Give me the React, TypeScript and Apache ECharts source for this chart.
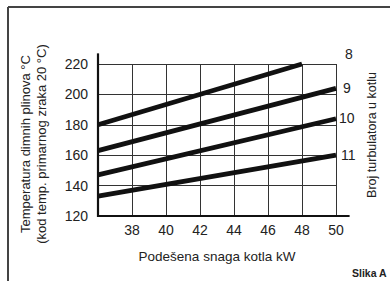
import React, { useEffect, useRef } from "react";
import * as echarts from "echarts";

// Data
const turbulators = ["8", "9", "10", "11"];
const powerStart = [36, 36, 36, 36];
const powerEnd = [48, 50, 50, 50];
const tempStart = [180, 163, 147, 133];
const tempEnd = [220, 204, 184, 160];
const xTicks = [36, 38, 40, 42, 44, 46, 48, 50];
const yTicks = [120, 140, 160, 180, 200, 220];

const labelOffsets: [number, number][] = [
  [43, -10],
  [7, 0],
  [3, -1],
  [5, 0],
];

const FONT = "'Liberation Sans', Arial, Helvetica, sans-serif";
const TXT = "#222";

export default function App() {
  const ref = useRef<HTMLDivElement>(null);
  useEffect(() => {
    if (!ref.current) return;
    const chart = echarts.init(ref.current, undefined, { renderer: "svg" });
    const series = turbulators.map((name, i) => ({
      type: "line",
      name,
      data: [
        [powerStart[i], tempStart[i]],
        [powerEnd[i], tempEnd[i]],
      ],
      showSymbol: false,
      clip: false,
      lineStyle: { color: "#111", width: 4.8 },
      endLabel: {
        show: true,
        formatter: name,
        distance: 0,
        offset: labelOffsets[i],
        color: TXT,
        fontSize: 14,
        fontFamily: FONT,
      },
    }));
    chart.setOption({
      animation: false,
      backgroundColor: "#fff",
      grid: { left: 98, right: 54, top: 64, bottom: 65 },
      xAxis: {
        type: "value",
        min: xTicks[0],
        max: xTicks[xTicks.length - 1],
        interval: 2,
        axisLine: { show: false },
        axisTick: { show: false },
        splitLine: { show: true, lineStyle: { color: "#333", width: 1 } },
        axisLabel: {
          color: TXT,
          fontSize: 14,
          fontFamily: FONT,
          margin: 7,
          formatter: (v: number) => (v === xTicks[0] ? "" : String(v)),
        },
        name: "Podešena snaga kotla kW",
        nameLocation: "middle",
        nameGap: 33,
        nameTextStyle: { color: TXT, fontSize: 13.5, fontFamily: FONT },
      },
      yAxis: [
        {
          type: "value",
          min: yTicks[0],
          max: yTicks[yTicks.length - 1],
          interval: 20,
          axisLine: { show: false },
          axisTick: { show: false },
          splitLine: { show: true, lineStyle: { color: "#333", width: 1 } },
          axisLabel: { color: TXT, fontSize: 14, fontFamily: FONT, margin: 10 },
          name: "Temperatura dimnih plinova °C\n(kod temp. primarnog zraka 20 °C)",
          nameLocation: "middle",
          nameGap: 48,
          nameTextStyle: {
            color: TXT,
            fontSize: 13,
            lineHeight: 16.5,
            fontFamily: FONT,
            padding: [0, 8, 0, 0],
          },
        },
        {
          type: "value",
          position: "right",
          min: yTicks[0],
          max: yTicks[yTicks.length - 1],
          interval: 20,
          axisLine: { show: false },
          axisTick: { show: false },
          splitLine: { show: false },
          axisLabel: { show: false },
          name: "Broj turbulatora u kotlu",
          nameLocation: "middle",
          nameGap: 29,
          nameTextStyle: {
            color: TXT,
            fontSize: 12.5,
            fontFamily: FONT,
            padding: [0, 0, 0, 10],
          },
        },
      ],
      series,
    });
    const p0 = chart.convertToPixel({ gridIndex: 0 }, [36, 120]) as number[];
    const pTop = chart.convertToPixel({ gridIndex: 0 }, [36, 227]) as number[];
    const pRight = chart.convertToPixel({ gridIndex: 0 }, [50.8, 120]) as number[];
    chart.setOption({
      graphic: [
        { type: "line", shape: { x1: 8, y1: 7, x2: 390, y2: 7 }, style: { stroke: "#444", lineWidth: 2 } },
        { type: "line", shape: { x1: 8, y1: 7, x2: 8, y2: 281 }, style: { stroke: "#444", lineWidth: 2 } },
        { type: "line", shape: { x1: p0[0], y1: p0[1] + 1, x2: pTop[0], y2: pTop[1] }, style: { stroke: "#111", lineWidth: 2.2 } },
        { type: "line", shape: { x1: p0[0] - 1, y1: p0[1], x2: pRight[0], y2: pRight[1] }, style: { stroke: "#111", lineWidth: 2.2 } },
        {
          type: "text",
          right: 3,
          bottom: 3,
          style: {
            text: "Slika A",
            fill: TXT,
            fontSize: 10.5,
            fontWeight: "bold",
            fontFamily: FONT,
          },
        },
      ],
    });
    return () => chart.dispose();
  }, []);
  return (
    <div
      ref={ref}
      style={{ position: "fixed", left: 0, top: 0, width: 390, height: 281 }}
    />
  );
}
